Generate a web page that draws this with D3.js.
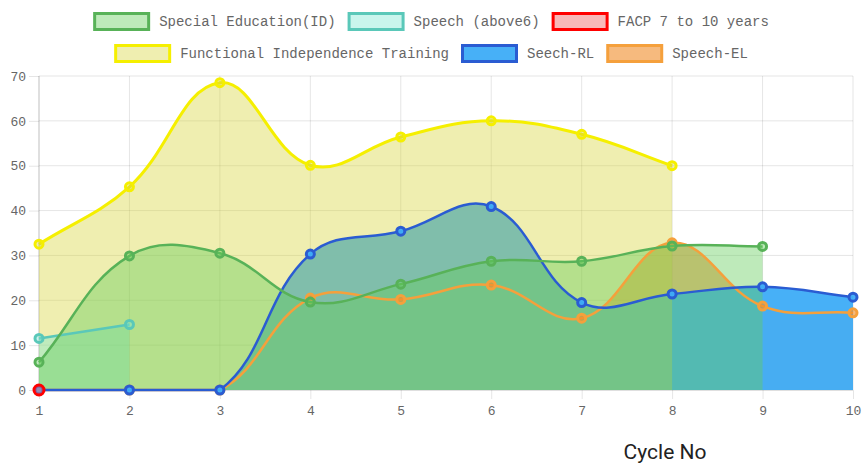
<!DOCTYPE html>
<html>
<head>
<meta charset="utf-8">
<script src="https://cdn.jsdelivr.net/npm/d3@7"></script>
<style>
  body { margin: 0; background: #fff; }
  svg { display: block; }
</style>
</head>
<body>
<div id="chart-area"></div>
<script>
// x axis = cycle number, y = score
var cycles = [1, 2, 3, 4, 5, 6, 7, 8, 9, 10];
var yTicks = [0, 10, 20, 30, 40, 50, 60, 70];

var seriesNames = ["Special Education(ID)", "Speech (above6)", "FACP 7 to 10 years",
                   "Functional Independence Training", "Seech-RL", "Speech-EL"];

// values per cycle, starting at cycle 1
var specialEd    = [6.2, 29.9, 30.5, 19.6, 23.6, 28.7, 28.7, 32.1, 32];
var speechAbove6 = [11.5, 14.6];
var facp         = [0];
var fit          = [32.5, 45.3, 68.5, 50.1, 56.4, 60, 57, 50];
var seechRL      = [0, 0, 0, 30.3, 35.4, 40.9, 19.5, 21.4, 23, 20.7];
var speechEL     = [0, 0, 0, 20.5, 20.2, 23.4, 16, 32.8, 18.7, 17.2];

var xTitle = "Cycle No";

// colours: line, fill
var lineColors = ["rgb(88,178,88)", "rgb(90,200,185)", "#ff0000", "#f5ef00", "rgb(42,92,210)", "rgb(245,160,60)"];
var fillColors = ["rgba(100,205,90,0.42)", "rgba(120,230,210,0.4)", "rgba(240,100,100,0.45)",
                  "rgba(215,213,58,0.4)", "rgba(63,173,247,0.96)", "rgba(240,140,40,0.6)"];

var allSeries = [specialEd, speechAbove6, facp, fit, seechRL, speechEL];

//margins
var margin = { left: 39, right: 9, top: 76, bottom: 80 };
var width = 862 - margin.left - margin.right;
var height = 470 - margin.top - margin.bottom;

var svg = d3.select("#chart-area").append("svg")
  .attr("width", 862)
  .attr("height", 470);

var g = svg.append("g")
  .attr("transform", "translate(" + margin.left + "," + margin.top + ")");

var x = d3.scaleLinear().domain([1, 10]).range([0, width]);
var y = d3.scaleLinear().domain([0, 70]).range([height, 0]);

var monoFont = "'Liberation Mono', 'DejaVu Sans Mono', monospace";

// grid
g.append("g").selectAll("line").data(yTicks).enter().append("line")
  .attr("x1", 0).attr("x2", width)
  .attr("y1", d => y(d)).attr("y2", d => y(d))
  .attr("stroke", d => d === 0 ? "rgba(0,0,0,0.25)" : "rgba(0,0,0,0.1)");
g.append("g").selectAll("line").data(cycles).enter().append("line")
  .attr("x1", d => x(d)).attr("x2", d => x(d))
  .attr("y1", 0).attr("y2", height)
  .attr("stroke", d => d === 1 ? "rgba(0,0,0,0.25)" : "rgba(0,0,0,0.1)");

// axes
var yAxis = g.append("g")
  .call(d3.axisLeft(y).tickValues(yTicks).tickSizeInner(10).tickSizeOuter(0).tickPadding(3));
var xAxis = g.append("g")
  .attr("transform", "translate(0," + height + ")")
  .call(d3.axisBottom(x).tickValues(cycles).tickSizeInner(9).tickSizeOuter(0).tickPadding(7));
[yAxis, xAxis].forEach(function(a) {
  a.select(".domain").remove();
  a.selectAll("line").attr("stroke", "rgba(0,0,0,0.1)");
  a.selectAll("text")
    .attr("fill", "#666")
    .style("font-family", monoFont)
    .style("font-size", "13px");
});

// Chart.js style spline (tension 0.4, control points kept in chart area)
var tension = 0.4;
function clampPt(p) {
  return [Math.max(0, Math.min(width, p[0])), Math.max(0, Math.min(height, p[1]))];
}
function ChartSpline(context) { this._context = context; }
ChartSpline.prototype = {
  areaStart: function() { this._line = 0; },
  areaEnd: function() { this._line = NaN; },
  lineStart: function() { this._pts = []; },
  point: function(px, py) { this._pts.push([+px, +py]); },
  lineEnd: function() {
    var p = this._pts, n = p.length, ctx = this._context;
    if (n) {
      if (this._line) ctx.lineTo(p[0][0], p[0][1]); else ctx.moveTo(p[0][0], p[0][1]);
      var cps = p.map(function(c, i) {
        var prev = p[i - 1] || c, next = p[i + 1] || c;
        var d01 = Math.hypot(c[0] - prev[0], c[1] - prev[1]);
        var d12 = Math.hypot(next[0] - c[0], next[1] - c[1]);
        var s01 = d01 / (d01 + d12) || 0, s12 = d12 / (d01 + d12) || 0;
        var fa = tension * s01, fb = tension * s12;
        return {
          prev: clampPt([c[0] - fa * (next[0] - prev[0]), c[1] - fa * (next[1] - prev[1])]),
          next: clampPt([c[0] + fb * (next[0] - prev[0]), c[1] + fb * (next[1] - prev[1])])
        };
      });
      for (var i = 1; i < n; i++) {
        ctx.bezierCurveTo(cps[i - 1].next[0], cps[i - 1].next[1], cps[i].prev[0], cps[i].prev[1], p[i][0], p[i][1]);
      }
    }
    if (this._line || (this._line !== 0 && n === 1)) ctx.closePath();
    this._line = 1 - this._line;
  }
};
function chartSpline(context) { return new ChartSpline(context); }

var area = d3.area()
  .x((d, i) => x(cycles[i]))
  .y0(y(0))
  .y1(d => y(d))
  .curve(chartSpline);
var line = d3.line()
  .x((d, i) => x(cycles[i]))
  .y(d => y(d))
  .curve(chartSpline);

// draw order like chart.js: last dataset at the bottom, all fills first
var order = d3.range(allSeries.length).reverse();

var fills = g.append("g");
order.forEach(function(k) {
  if (allSeries[k].length > 1) {
    fills.append("path")
      .attr("d", area(allSeries[k]))
      .attr("fill", fillColors[k]);
  }
});

var marks = g.append("g");
order.forEach(function(k) {
  var s = marks.append("g");
  if (allSeries[k].length > 1) {
    s.append("path")
      .attr("d", line(allSeries[k]))
      .attr("fill", "none")
      .attr("stroke", lineColors[k])
      .attr("stroke-width", k === 3 ? 3 : 2.5);
  }
  s.selectAll("circle").data(allSeries[k]).enter().append("circle")
    .attr("cx", (d, i) => x(cycles[i]))
    .attr("cy", d => y(d))
    .attr("r", k === 2 ? 5 : 4)
    .attr("fill", fillColors[k])
    .attr("stroke", lineColors[k])
    .attr("stroke-width", 3);
});

// legend (two centred rows)
var legendRows = [[0, 1, 2], [3, 4, 5]];
var rowY = [13.5, 45.5];
var boxW = 54, boxH = 16, gap = 9, itemPad = 12;
legendRows.forEach(function(row, r) {
  var lg = svg.append("g");
  var xpos = 0;
  row.forEach(function(k) {
    lg.append("rect")
      .attr("x", xpos + 1.5).attr("y", rowY[r])
      .attr("width", boxW).attr("height", boxH)
      .attr("fill", fillColors[k])
      .attr("stroke", lineColors[k])
      .attr("stroke-width", 3);
    var t = lg.append("text")
      .attr("x", xpos + boxW + 3 + gap)
      .attr("y", rowY[r] + boxH / 2)
      .attr("dy", "0.35em")
      .attr("fill", "#666")
      .style("font-family", monoFont)
      .style("font-size", "14px")
      .text(seriesNames[k]);
    xpos += boxW + 3 + gap + t.node().getComputedTextLength() + itemPad;
  });
  var total = xpos - itemPad;
  lg.attr("transform", "translate(" + (862 / 2 - total / 2) + ",0)");
});

// x title
svg.append("text")
  .attr("x", 665)
  .attr("y", 459)
  .attr("text-anchor", "middle")
  .attr("fill", "#222")
  .style("font-family", "Roboto, sans-serif")
  .style("font-size", "21px")
  .text(xTitle);
</script>
</body>
</html>
